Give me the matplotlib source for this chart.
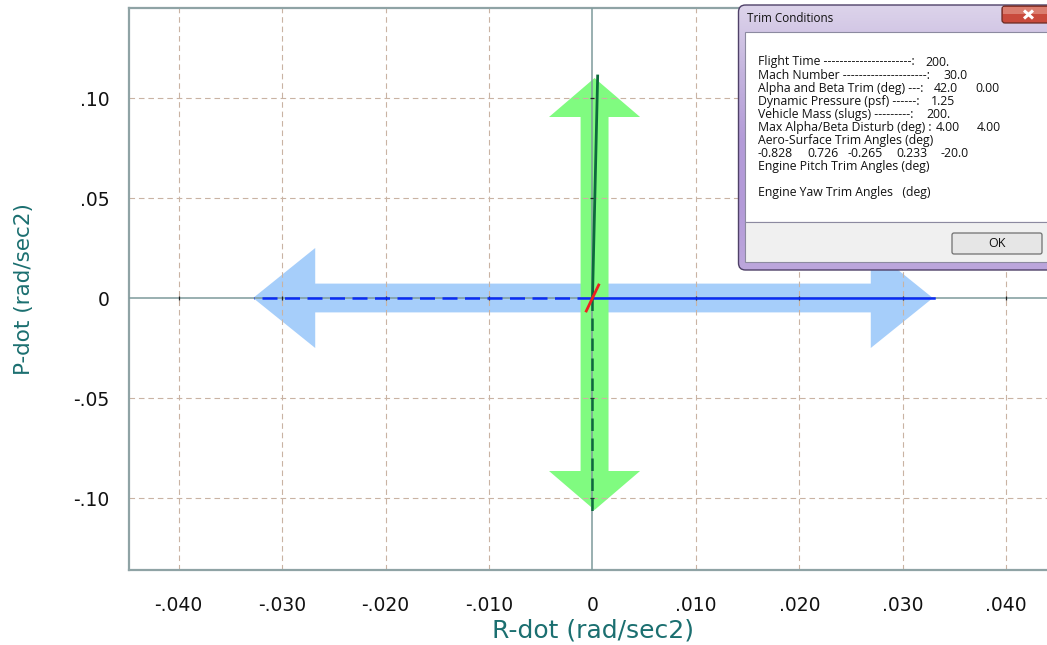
import matplotlib
matplotlib.use("Agg")
import matplotlib.pyplot as plt
import numpy as np
from matplotlib.patches import Polygon, Rectangle, FancyBboxPatch
from matplotlib.colors import LinearSegmentedColormap

# ---------------- data ----------------
x_ticks = [-0.04, -0.03, -0.02, -0.01, 0.0, 0.01, 0.02, 0.03, 0.04]
x_tick_labels = ["-.040", "-.030", "-.020", "-.010", "0", ".010", ".020", ".030", ".040"]
y_ticks = [-0.10, -0.05, 0.0, 0.05, 0.10]
y_tick_labels = ["-.10", "-.05", "0", ".05", ".10"]

# maximum control acceleration in each direction (rad/sec2)
rdot_neg_max = -0.0328
rdot_pos_max = 0.0329
pdot_neg_max = -0.106
pdot_pos_max = 0.110

# achieved accelerations along each axis
pdot_pos_x = [0.0, 0.0005]
pdot_pos_y = [0.0, 0.111]
pdot_neg_x = [0.0, 0.0]
pdot_neg_y = [0.0, -0.1065]
rdot_pos_x = [0.0, 0.0330]
rdot_neg_x = [0.0, -0.0327]
rdot_y = [0.0, 0.0]
coupling_x = [-0.0006, 0.0006]
coupling_y = [-0.0065, 0.0065]

# trim conditions dialog contents
trim_labels = [
    "Flight Time ----------------------:",
    "Mach Number ---------------------:",
    "Alpha and Beta Trim (deg) ---:",
    "Dynamic Pressure (psf) ------:",
    "Vehicle Mass (slugs) ---------:",
    "Max Alpha/Beta Disturb (deg) :",
    "Aero-Surface Trim Angles (deg)",
    "",
    "Engine Pitch Trim Angles (deg)",
    "",
    "Engine Yaw Trim Angles   (deg)",
]
trim_values = [["200."], ["30.0"], ["42.0", "0.00"], ["1.25"], ["200."], ["4.00", "4.00"],
               [], [], [], [], []]
surface_angles = ["-0.828", "0.726", "-0.265", "0.233", "-20.0"]

# ---------------- figure ----------------
W, H = 1047, 645
fig = plt.figure(figsize=(W / 100, H / 100), dpi=100)
fig.patch.set_facecolor("white")

ax_l, ax_r, ax_t, ax_b = 129, 1057, 8, 570
ax = fig.add_axes([ax_l / W, 1 - ax_b / H, (ax_r - ax_l) / W, (ax_b - ax_t) / H])
ax.set_xlim(-0.0448, 0.0449)
ax.set_ylim(-0.136, 0.145)

tick_font = dict(family="DejaVu Sans", size=13.5, color="#111111")
label_color = "#1b6f70"

ax.set_xticks(x_ticks)
ax.set_xticklabels(x_tick_labels, **tick_font)
ax.set_yticks(y_ticks)
ax.set_yticklabels(y_tick_labels, **tick_font)
ax.tick_params(axis="both", length=0)
ax.tick_params(axis="x", pad=19)
ax.tick_params(axis="y", pad=14)
ax.set_xlabel("R-dot (rad/sec2)", labelpad=2, family="DejaVu Sans", size=18, color=label_color)
ax.set_ylabel("P-dot (rad/sec2)", labelpad=28, family="DejaVu Sans", size=15.5, color=label_color)

for s in ax.spines.values():
    s.set_color("#8fa3a5")
    s.set_linewidth(1.6)

# dashed grid (drawn above the authority arrows)
grid_kw = dict(color="#c9b3a3", lw=0.8, ls=(0, (5, 3.5)), zorder=2)
for xt in x_ticks:
    if xt != 0:
        ax.axvline(xt, **grid_kw)
for yt in y_ticks:
    if yt != 0:
        ax.axhline(yt, **grid_kw)
ax.axvline(0, color="#7d9a9b", lw=1.1, zorder=3)
ax.axhline(0, color="#7d9a9b", lw=1.1, zorder=3)

# tiny tick marks on the zero axes
ax.plot([t for t in x_ticks if t != 0], [0] * 8, ls="none", marker="|", ms=3.5,
        color="#222222", mew=0.9, zorder=3.5)
ax.plot([0] * 4, [t for t in y_ticks if t != 0], ls="none", marker="_", ms=3.5,
        color="#222222", mew=0.9, zorder=3.5)


def h_double_arrow(x0, x1, shaft, head, head_len):
    return [(x0, 0), (x0 + head_len, head), (x0 + head_len, shaft),
            (x1 - head_len, shaft), (x1 - head_len, head), (x1, 0),
            (x1 - head_len, -head), (x1 - head_len, -shaft),
            (x0 + head_len, -shaft), (x0 + head_len, -head)]


def v_double_arrow(xc, y0, y1, shaft, head, head_len):
    return [(xc, y0), (xc + head, y0 + head_len), (xc + shaft, y0 + head_len),
            (xc + shaft, y1 - head_len), (xc + head, y1 - head_len), (xc, y1),
            (xc - head, y1 - head_len), (xc - shaft, y1 - head_len),
            (xc - shaft, y0 + head_len), (xc - head, y0 + head_len)]


ax.add_patch(Polygon(h_double_arrow(rdot_neg_max, rdot_pos_max, 0.0072, 0.025, 0.006),
                     closed=True, facecolor="#a6cefa", edgecolor="none", zorder=1))
ax.add_patch(Polygon(v_double_arrow(0.0002, pdot_neg_max, pdot_pos_max, 0.00135, 0.0044, 0.0195),
                     closed=True, facecolor="#80fb80", edgecolor="none", zorder=1.2))

ax.plot(rdot_pos_x, rdot_y, color="#0a2cf5", lw=1.8, zorder=4)
ax.plot(rdot_neg_x, rdot_y, color="#0a2cf5", lw=1.8, ls=(0, (6, 3)), zorder=4)
ax.plot(pdot_pos_x, pdot_pos_y, color="#0c6a3c", lw=2.0, zorder=4)
ax.plot(pdot_neg_x, pdot_neg_y, color="#0c6a3c", lw=1.8, ls=(0, (5, 3)), zorder=4)
ax.plot(coupling_x, coupling_y, color="#f02020", lw=2.0, zorder=5)

# ---------------- trim conditions dialog ----------------
dx0, dx1, dy0, dy1 = 737, 1047, 2, 273
dax = fig.add_axes([dx0 / W, 1 - dy1 / H, (dx1 - dx0) / W, (dy1 - dy0) / H])
dax.set_xlim(dx0, dx1)
dax.set_ylim(dy1, dy0)
dax.axis("off")
dax.set_zorder(10)

frame_style = "round,pad=0,rounding_size=7"
frame = FancyBboxPatch((738.5, 5), 330, 265, boxstyle=frame_style,
                       facecolor="#c2b2dc", edgecolor="none", zorder=1)
dax.add_patch(frame)
grad = np.linspace(0, 1, 100).reshape(-1, 1)
frame_cmap = LinearSegmentedColormap.from_list(
    "frame", ["#dcd3ea", "#c4b4de", "#b49cd8", "#b39ad8", "#bca6dc"])
im = dax.imshow(grad, extent=(738, 1070, 270, 5), cmap=frame_cmap, aspect="auto", zorder=1.1)
im.set_clip_path(frame)
dax.add_patch(FancyBboxPatch((738.5, 5), 330, 265, boxstyle=frame_style,
                             facecolor="none", edgecolor="#4f4168", lw=1.0, zorder=1.2))

dax.text(747, 19, "Trim Conditions", family="Open Sans", size=8.4, color="#111111",
         va="center", ha="left", zorder=3)

# close button
dax.add_patch(FancyBboxPatch((1002, 6), 60, 17, boxstyle="round,pad=0,rounding_size=3",
                             facecolor="#c94a3c", edgecolor="#6a2a22", lw=0.9, zorder=2))
dax.add_patch(Rectangle((1003, 7), 58, 7, facecolor="#df8a7c", edgecolor="none", zorder=2.1, alpha=0.8))
dax.plot([1024, 1033], [10.5, 18.5], color="white", lw=2.2, zorder=3, solid_capstyle="butt")
dax.plot([1024, 1033], [18.5, 10.5], color="white", lw=2.2, zorder=3, solid_capstyle="butt")

# client area
dax.add_patch(Rectangle((745, 32), 320, 190, facecolor="white", edgecolor="#8c8aa0", lw=0.8, zorder=2))
dax.add_patch(Rectangle((745, 222), 320, 40, facecolor="#f0f0f0", edgecolor="#8c8aa0", lw=0.8, zorder=2))

# OK button
dax.add_patch(FancyBboxPatch((952, 233), 90, 21, boxstyle="round,pad=0,rounding_size=2",
                             facecolor="#e6e6e6", edgecolor="#6f6f6f", lw=0.9, zorder=3))
dax.text(997, 243.5, "OK", family="Open Sans", size=9.0, color="#111111",
         ha="center", va="center", zorder=4)

text_kw = dict(family="Open Sans", size=8.8, color="#111111", va="center", zorder=4)
line_y0, line_dy = 62, 13.1
value_x = {0: [925], 1: [943], 2: [934, 975], 3: [931], 4: [926], 5: [936, 977]}
for i, lab in enumerate(trim_labels):
    y = line_y0 + i * line_dy
    if lab:
        dax.text(758, y, lab, ha="left", **text_kw)
    for v, xv in zip(trim_values[i], value_x.get(i, [])):
        dax.text(xv, y, v, ha="left", **text_kw)
for v, xv in zip(surface_angles, [758, 807, 848, 896, 941]):
    dax.text(xv, line_y0 + 7 * line_dy, v, ha="left", **text_kw)

fig.savefig("out.png", dpi=100)
